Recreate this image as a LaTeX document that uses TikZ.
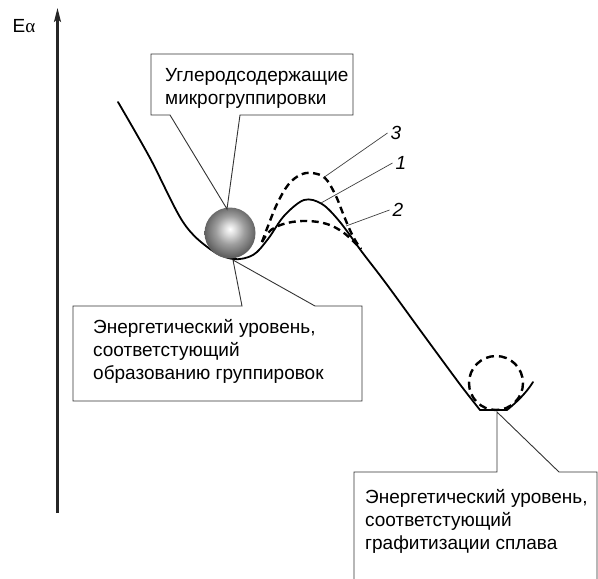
\documentclass[tikz,border=0pt]{standalone}
\usepackage{fontspec}
\setmainfont{Liberation Sans}
\newfontfamily\grkfont{Liberation Serif}
\usetikzlibrary{arrows.meta}
\pgfdeclareradialshading{sphshade}{\pgfpoint{0bp}{4bp}}{color(0bp)=(white); color(6bp)=(black!15); color(14bp)=(black!38); color(22bp)=(black!55); color(25bp)=(black!62); color(50bp)=(black!62)}
\begin{document}
\begin{tikzpicture}[x=1pt,y=-1pt,
  box/.style={draw=black!80, line width=0.9pt, line join=miter},
  lead/.style={draw=black!75, line width=0.7pt},
  curve/.style={line width=1.8pt, line join=round, line cap=round},
  dcurve/.style={line width=2.4pt, dash pattern=on 7pt off 4.5pt},
  txt/.style={font=\fontsize{19}{23}\selectfont, align=left, inner sep=0pt},
  num/.style={font=\fontsize{19}{23}\selectfont\itshape, inner sep=3pt}]
\useasboundingbox (0,0) rectangle (598,579);
% axis
\coordinate (axb) at (57.5,513);
\coordinate (axt) at (57.5,8);
\draw[line width=2.2pt, draw=black!85, -{Stealth[length=14pt,width=7pt,inset=3pt]}] (axb) -- (axt);
\node[txt] (ea) at (24,26) {E{\grkfont α}};
% main curve
\draw[curve] plot[smooth, tension=0.55] coordinates {(118,102) (150,158) (183,222) (210,249) (233,259) (253,255) (268,239) (284,216) (304,200) (322,204) (340,222) (362,252) (385,282) (420,330) (442,360) (462,387) (480,410)} -- (507,410) .. controls (517,402) and (527,392) .. (533,382);
% dashed curves
\draw[dcurve] plot[smooth, tension=0.6] coordinates {(262,242) (268,226) (277,204) (288,185) (300,175) (312,173) (325,178) (335,194) (342,211) (349,228) (355,240) (361,249)};
\draw[dcurve] plot[smooth, tension=0.6] coordinates {(262,242) (271,230) (287,223) (307,221) (327,224) (344,233) (361,249)};
% sphere
\shade[shading=sphshade] (230,233) circle (25.5);
% dashed circle in lower well
\draw[dcurve, dash pattern=on 8pt off 5pt] (496,383) circle (27);
% curve points
\coordinate (sph1) at (227,209);
\coordinate (w1) at (233,260);
\coordinate (w2) at (497,412);
\coordinate (p3) at (323,178);
\coordinate (p1) at (321,203);
\coordinate (p2) at (346,226);
% top box
\draw[box] (sph1) -- (170,115) -- (151,115) -- (151,54) -- (353,54) -- (353,115) -- (240,115) -- cycle;
\node[txt, anchor=base west] (t1) at (165,104) {Углеродсодержащие\\микрогруппировки};
% box 1
\draw[box] (w1) -- (242,306) -- (73,306) -- (73,401) -- (362,401) -- (362,306) -- (315,306) -- cycle;
\node[txt, anchor=base west] (t2) at (93,379) {Энергетический уровень,\\соответстующий\\образованию группировок};
% box 2
\draw[box] (354,579) -- (354,472) -- (497,472) -- (w2) -- (559,472) -- (597,472) -- (597,579);
\node[txt, anchor=base west] (t3) at (365,549) {Энергетический уровень,\\соответстующий\\графитизации сплава};
% curve labels
\node[num] (n3) at (396,133) {3};
\node[num] (n1) at (401,163) {1};
\node[num] (n2) at (398,210) {2};
\draw[lead] (n3.west) -- (p3);
\draw[lead] (n1.west) -- (p1);
\draw[lead] (n2.west) -- (p2);
\end{tikzpicture}
\end{document}
